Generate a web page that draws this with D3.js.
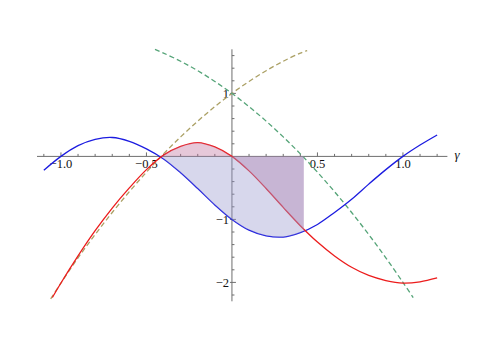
<!DOCTYPE html>
<html>
<head>
<meta charset="utf-8">
<script src="https://cdn.jsdelivr.net/npm/d3@7"></script>
<style>
  html, body { margin: 0; padding: 0; background: #fff; }
  div.container { width: 498px; height: 352px; }
  text { font-family: "Liberation Serif", "DejaVu Serif", serif; }
</style>
</head>
<body>
<div class="container"></div>
<script>
// values (gamma on x)
const blueX = [-1.1, -1.0, -0.9, -0.8, -0.7, -0.6, -0.5, -0.4, -0.3, -0.2, -0.1, 0, 0.1, 0.2, 0.3, 0.4, 0.5, 0.6, 0.7, 0.8, 0.9, 1.0, 1.1, 1.2]
const blueY = [-0.22, 0.0, 0.17, 0.27, 0.30, 0.24, 0.12, -0.04, -0.26, -0.51, -0.77, -1.0, -1.17, -1.26, -1.28, -1.21, -1.08, -0.89, -0.68, -0.44, -0.21, 0.0, 0.18, 0.34]

const redX = [-1.05, -1.0, -0.9, -0.8, -0.7, -0.6, -0.5, -0.4, -0.3, -0.2, -0.1, 0, 0.1, 0.2, 0.3, 0.4, 0.5, 0.6, 0.7, 0.8, 0.9, 1.0, 1.1, 1.2]
const redY = [-2.24, -2.01, -1.58, -1.18, -0.82, -0.50, -0.21, 0.02, 0.16, 0.22, 0.15, 0, -0.23, -0.51, -0.81, -1.10, -1.36, -1.58, -1.76, -1.89, -1.97, -2.01, -1.99, -1.93]

const oliveX = [-1.06, -1.0, -0.9, -0.8, -0.7, -0.6, -0.5, -0.4, -0.3, -0.2, -0.1, 0, 0.1, 0.2, 0.3, 0.4, 0.44]
const oliveY = [-2.26, -2.01, -1.61, -1.24, -0.89, -0.56, -0.25, 0.04, 0.31, 0.56, 0.79, 1.0, 1.19, 1.36, 1.51, 1.64, 1.68]

const greenX = [-0.45, -0.4, -0.3, -0.2, -0.1, 0, 0.1, 0.2, 0.3, 0.4, 0.5, 0.6, 0.7, 0.8, 0.9, 1.0, 1.06]
const greenY = [1.70, 1.64, 1.51, 1.36, 1.19, 1.0, 0.79, 0.56, 0.31, 0.04, -0.25, -0.56, -0.89, -1.24, -1.61, -2.0, -2.24]

// shaded stretch of gamma
const fillRange = [-0.41, 0.42]

// ticks
const xTicks = [-1.1, -1.0, -0.9, -0.8, -0.7, -0.6, -0.5, -0.4, -0.3, -0.2, -0.1, 0.1, 0.2, 0.3, 0.4, 0.5, 0.6, 0.7, 0.8, 0.9, 1.0, 1.1, 1.2]
const xTickLabels = [-1.0, -0.5, 0.5, 1.0]
const yTicks = [1.6, 1.4, 1.2, 1.0, 0.8, 0.6, 0.4, 0.2, -0.2, -0.4, -0.6, -0.8, -1.0, -1.2, -1.4, -1.6, -1.8, -2.0, -2.2]
const yTickLabels = [1, -1, -2]

class Chart {
    constructor(div) {
        this.div = div
    }

    setDimensions() {
        this.width = 498
        this.height = 352
    }

    createGraph() {
        // scales, axes cross at the origin
        this.x = d3.scaleLinear().domain([-1.14, 1.26]).range([37, 447.4])
        this.y = d3.scaleLinear().domain([-2.3, 1.7]).range([301.3, 49.3])

        const zip = (xs, ys) => xs.map((v, i) => [v, ys[i]])
        this.blue = zip(blueX, blueY)
        this.red = zip(redX, redY)
        this.olive = zip(oliveX, oliveY)
        this.green = zip(greenX, greenY)

        this.line = d3.line()
            .x(d => this.x(d[0]))
            .y(d => this.y(d[1]))
            .curve(d3.curveCatmullRom.alpha(0.5))

        this.area = d3.area()
            .x(d => this.x(d[0]))
            .y0(this.y(0))
            .y1(d => this.y(d[1]))
            .curve(d3.curveCatmullRom.alpha(0.5))

        this.svg = d3.select(this.div).append("svg")
            .attr("width", this.width)
            .attr("height", this.height)

        // clip for the filled stretch
        this.svg.append("defs").append("clipPath")
            .attr("id", "fillClip")
            .append("rect")
            .attr("x", this.x(fillRange[0]))
            .attr("y", 0)
            .attr("width", this.x(fillRange[1]) - this.x(fillRange[0]))
            .attr("height", this.height)

        this.drawAxes()

        // dashed curves
        this.svg.append("path")
            .datum(this.olive)
            .attr("d", this.line)
            .attr("fill", "none")
            .attr("stroke", "#aba064")
            .attr("stroke-width", 1.3)
            .attr("stroke-dasharray", "5,3")

        this.svg.append("path")
            .datum(this.green)
            .attr("d", this.line)
            .attr("fill", "none")
            .attr("stroke", "#55a478")
            .attr("stroke-width", 1.3)
            .attr("stroke-dasharray", "5,3")

        // solid curves
        this.svg.append("path")
            .datum(this.blue)
            .attr("d", this.line)
            .attr("fill", "none")
            .attr("stroke", "#1c1ce0")
            .attr("stroke-width", 1.3)

        this.svg.append("path")
            .datum(this.red)
            .attr("d", this.line)
            .attr("fill", "none")
            .attr("stroke", "#ec1c1c")
            .attr("stroke-width", 1.3)

        // fills go on top, that's what darkens the lines inside
        const fills = this.svg.append("g").attr("clip-path", "url(#fillClip)")

        fills.append("path")
            .datum(this.red)
            .attr("d", this.area)
            .attr("fill", "rgb(190,110,155)")
            .attr("fill-opacity", 0.38)

        fills.append("path")
            .datum(this.blue)
            .attr("d", this.area)
            .attr("fill", "rgb(150,150,205)")
            .attr("fill-opacity", 0.38)
    }

    drawAxes() {
        const axisColor = "#6e6e6e"
        const x0 = this.x(0)
        const y0 = this.y(0)
        const ax = this.svg.append("g")

        ax.append("line")
            .attr("x1", this.x.range()[0]).attr("x2", this.x.range()[1])
            .attr("y1", y0).attr("y2", y0)
            .attr("stroke", axisColor)

        ax.append("line")
            .attr("x1", x0).attr("x2", x0)
            .attr("y1", this.y.range()[0]).attr("y2", this.y.range()[1])
            .attr("stroke", axisColor)

        // x ticks stick up from the axis
        ax.selectAll(".xtick")
            .data(xTicks)
            .enter().append("line")
            .attr("class", "xtick")
            .attr("x1", d => this.x(d)).attr("x2", d => this.x(d))
            .attr("y1", y0)
            .attr("y2", d => y0 - (xTickLabels.includes(d) ? 4 : 2.5))
            .attr("stroke", axisColor)

        // y ticks stick right
        ax.selectAll(".ytick")
            .data(yTicks)
            .enter().append("line")
            .attr("class", "ytick")
            .attr("y1", d => this.y(d)).attr("y2", d => this.y(d))
            .attr("x1", d => x0 - (yTickLabels.includes(d) ? 2 : 0))
            .attr("x2", d => x0 + (yTickLabels.includes(d) ? 4 : 2.5))
            .attr("stroke", axisColor)

        const fmt = d3.format(".1f")
        const minus = s => s.replace("-", "\u2212")

        ax.selectAll(".xlab")
            .data(xTickLabels)
            .enter().append("text")
            .attr("class", "xlab")
            .attr("x", d => this.x(d))
            .attr("y", y0 + 12)
            .attr("text-anchor", "middle")
            .attr("font-size", 12.5)
            .attr("fill", "#111")
            .text(d => minus(fmt(d)))

        ax.selectAll(".ylab")
            .data(yTickLabels)
            .enter().append("text")
            .attr("class", "ylab")
            .attr("x", x0 - 3)
            .attr("y", d => this.y(d) + 4.2)
            .attr("text-anchor", "end")
            .attr("font-size", 12.5)
            .attr("fill", "#111")
            .text(d => minus(String(d)))

        // axis name
        ax.append("text")
            .attr("x", 457)
            .attr("y", y0 + 2.5)
            .attr("text-anchor", "middle")
            .attr("font-size", 13)
            .attr("font-style", "italic")
            .attr("fill", "#111")
            .text("\u03B3")
    }

    run() {
        this.setDimensions()
        this.createGraph()
    }
}

let container = document.querySelector("div.container")
let chart = new Chart(container)
chart.run()
</script>
</body>
</html>
